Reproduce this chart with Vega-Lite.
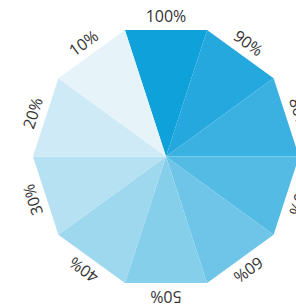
{
  "$schema": "https://vega.github.io/schema/vega-lite/v6.json",
  "width": 332,
  "height": 313,
  "padding": 0,
  "autosize": {"type": "none"},
  "background": "white",
  "config": {"view": {"stroke": null}},
  "datasets": {
    "wedges": [
      {"seg": "100%", "k": 0, "x": 0, "y": 0}, {"seg": "100%", "k": 1, "x": -0.30902, "y": 0.95106}, {"seg": "100%", "k": 2, "x": 0.30902, "y": 0.95106},
      {"seg": "90%", "k": 0, "x": 0, "y": 0}, {"seg": "90%", "k": 1, "x": 0.30902, "y": 0.95106}, {"seg": "90%", "k": 2, "x": 0.80902, "y": 0.58779},
      {"seg": "80%", "k": 0, "x": 0, "y": 0}, {"seg": "80%", "k": 1, "x": 0.80902, "y": 0.58779}, {"seg": "80%", "k": 2, "x": 1, "y": 0},
      {"seg": "70%", "k": 0, "x": 0, "y": 0}, {"seg": "70%", "k": 1, "x": 1, "y": 0}, {"seg": "70%", "k": 2, "x": 0.80902, "y": -0.58779},
      {"seg": "60%", "k": 0, "x": 0, "y": 0}, {"seg": "60%", "k": 1, "x": 0.80902, "y": -0.58779}, {"seg": "60%", "k": 2, "x": 0.30902, "y": -0.95106},
      {"seg": "50%", "k": 0, "x": 0, "y": 0}, {"seg": "50%", "k": 1, "x": 0.30902, "y": -0.95106}, {"seg": "50%", "k": 2, "x": -0.30902, "y": -0.95106},
      {"seg": "40%", "k": 0, "x": 0, "y": 0}, {"seg": "40%", "k": 1, "x": -0.30902, "y": -0.95106}, {"seg": "40%", "k": 2, "x": -0.80902, "y": -0.58779},
      {"seg": "30%", "k": 0, "x": 0, "y": 0}, {"seg": "30%", "k": 1, "x": -0.80902, "y": -0.58779}, {"seg": "30%", "k": 2, "x": -1, "y": 0},
      {"seg": "20%", "k": 0, "x": 0, "y": 0}, {"seg": "20%", "k": 1, "x": -1, "y": 0}, {"seg": "20%", "k": 2, "x": -0.80902, "y": 0.58779},
      {"seg": "10%", "k": 0, "x": 0, "y": 0}, {"seg": "10%", "k": 1, "x": -0.80902, "y": 0.58779}, {"seg": "10%", "k": 2, "x": -0.30902, "y": 0.95106}
    ],
    "labels": [
      {"seg": "100%", "pos": 0}, {"seg": "90%", "pos": 36}, {"seg": "80%", "pos": 72}, {"seg": "70%", "pos": 108},
      {"seg": "60%", "pos": 144}, {"seg": "50%", "pos": 180}, {"seg": "40%", "pos": 216}, {"seg": "30%", "pos": 252},
      {"seg": "20%", "pos": 288}, {"seg": "10%", "pos": 324}
    ]
  },
  "layer": [
    {
      "data": {"name": "wedges"},
      "mark": {"type": "line", "filled": true, "strokeWidth": 0},
      "encoding": {
        "x": {"field": "x", "type": "quantitative", "scale": {"domain": [-1.2481, 1.2481], "nice": false, "zero": false}, "axis": null},
        "y": {"field": "y", "type": "quantitative", "scale": {"domain": [-1.1767, 1.1767], "nice": false, "zero": false}, "axis": null},
        "order": {"field": "k", "type": "quantitative"},
        "color": {
          "field": "seg", "type": "nominal", "legend": null,
          "scale": {
            "domain": ["100%", "90%", "80%", "70%", "60%", "50%", "40%", "30%", "20%", "10%"],
            "range": ["#0ea1da", "#24a8de", "#3bb1e1", "#54bbe4", "#6ec5e8", "#86cfeb", "#9ed8ef", "#b6e1f3", "#cfeaf7", "#e6f4fa"]
          }
        }
      }
    },
    {
      "data": {"name": "labels"},
      "mark": {"type": "text", "font": "Open Sans", "fontSize": 16, "color": "#333333", "align": "center", "baseline": "middle", "dy": 1.2},
      "encoding": {
        "theta": {"field": "pos", "type": "quantitative", "scale": {"domain": [0, 360], "range": [0, 6.283185], "zero": false, "nice": false}},
        "radius": {"value": 140.5},
        "angle": {"field": "pos", "type": "quantitative", "scale": {"domain": [0, 360], "range": [0, 360], "zero": false, "nice": false}},
        "text": {"field": "seg", "type": "nominal"}
      }
    }
  ]
}
